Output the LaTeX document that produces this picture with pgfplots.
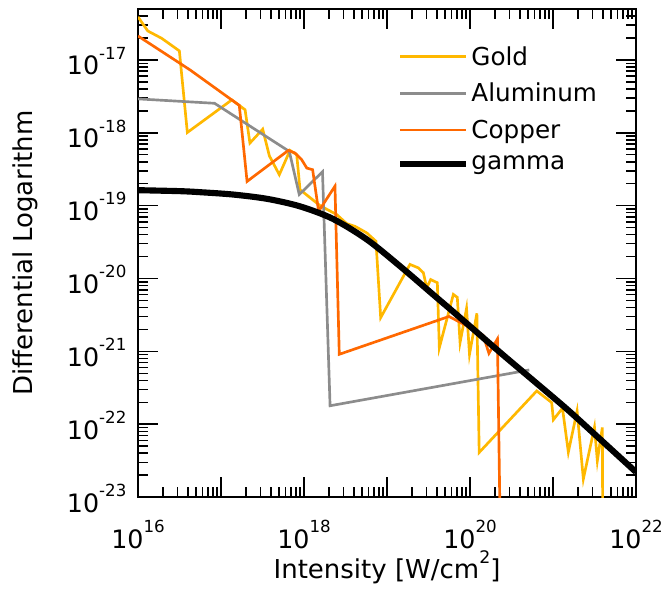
\documentclass[border=0pt]{standalone}
\usepackage{fontspec}
\setmainfont{DejaVu Sans}
\usepackage{pgfplots}
\pgfplotsset{compat=1.18}

\definecolor{gold}{RGB}{255,184,0}
\definecolor{copper}{RGB}{255,104,0}
\definecolor{alu}{RGB}{140,140,140}

% 10 with a raised exponent, in the text font
\newcommand{\tl}[1]{10\raisebox{0.62em}{\fontsize{12.5}{13}\selectfont #1}}

\begin{document}
\begin{tikzpicture}
\begin{axis}[
    scale only axis,
    width=373.5pt, height=366pt,
    xmode=log, ymode=log,
    xmin=1e16, xmax=1e22,
    ymin=1e-23, ymax=5e-17,
    xtick={1e16,1e17,1e18,1e19,1e20,1e21,1e22},
    xticklabels={\tl{16},,\tl{18},,\tl{20},,\tl{22}},
    ytick={1e-23,1e-22,1e-21,1e-20,1e-19,1e-18,1e-17},
    yticklabels={\tl{-23},\tl{-22},\tl{-21},\tl{-20},\tl{-19},\tl{-18},\tl{-17}},
    minor xtick={2e16,3e16,4e16,5e16,6e16,7e16,8e16,9e16,
                 2e17,3e17,4e17,5e17,6e17,7e17,8e17,9e17,
                 2e18,3e18,4e18,5e18,6e18,7e18,8e18,9e18,
                 2e19,3e19,4e19,5e19,6e19,7e19,8e19,9e19,
                 2e20,3e20,4e20,5e20,6e20,7e20,8e20,9e20,
                 2e21,3e21,4e21,5e21,6e21,7e21,8e21,9e21},
    minor ytick={2e-23,3e-23,4e-23,5e-23,6e-23,7e-23,8e-23,9e-23,
                 2e-22,3e-22,4e-22,5e-22,6e-22,7e-22,8e-22,9e-22,
                 2e-21,3e-21,4e-21,5e-21,6e-21,7e-21,8e-21,9e-21,
                 2e-20,3e-20,4e-20,5e-20,6e-20,7e-20,8e-20,9e-20,
                 2e-19,3e-19,4e-19,5e-19,6e-19,7e-19,8e-19,9e-19,
                 2e-18,3e-18,4e-18,5e-18,6e-18,7e-18,8e-18,9e-18,
                 2e-17,3e-17,4e-17},
    tick align=inside,
    major tick length=15pt, minor tick length=7.5pt,
    every tick/.style={black, line width=1.1pt},
    axis line style={line width=1.5pt},
    tick label style={font=\fontsize{19}{20}\selectfont, inner sep=0pt},
    xticklabel style={anchor=base, yshift=-38.25pt},
    yticklabel style={anchor=base east, xshift=-8.5pt, yshift=-11.25pt},
    label style={font=\fontsize{19.5}{20}\selectfont},
    xlabel={Intensity [W/cm\raisebox{0.6em}{\fontsize{13}{13}\selectfont 2}]},
    xlabel style={at={(axis description cs:0.5,0)}, anchor=base, yshift=-61.2pt, inner sep=0pt},
    ylabel={Differential Logarithm},
    ylabel style={at={(axis description cs:-0.227,0.5)}, anchor=center},
    legend style={at={(axis description cs:0.512,0.935)}, anchor=north west,
        draw=none, fill=none, font=\fontsize{18.5}{20}\selectfont, row sep=8pt},
    legend cell align=left,
    legend image code/.code={\draw[#1] (0pt,0pt) -- (43pt,0pt); \path (0pt,0pt) -- (49pt,0pt);},
]
\coordinate (O) at (rel axis cs:0,0);

\addplot[gold, line width=2pt] coordinates {
(1.0e16,3.9e-17) (1.31e16,2.50e-17) (1.93e16,1.98e-17) (3.15e16,1.33e-17)
(3.93e16,1.01e-18) (1.35e17,2.83e-18) (1.95e17,2.07e-18) (2.23e17,7.23e-19)
(3.18e17,1.12e-18) (3.82e17,4.84e-19) (5.04e17,2.66e-19) (6.78e17,5.73e-19)
(8.17e17,5.00e-19) (8.95e17,1.66e-19) (1.56e18,1.00e-19) (2.48e18,7.53e-20)
(3.27e18,5.66e-20) (4.11e18,5.20e-20) (5.69e18,4.23e-20) (7.36e18,3.24e-20)
(8.39e18,2.90e-21) (1.89e19,1.56e-20) (2.38e19,1.40e-20) (2.74e19,1.20e-20)
(3.01e19,7.46e-21) (3.36e19,9.68e-21) (4.04e19,8.73e-21) (4.27e19,1.12e-21)
(6.30e19,6.04e-21) (7.03e19,5.50e-21) (7.59e19,1.32e-21) (9.08e19,3.88e-21)
(9.86e19,9.10e-22) (1.21e20,3.32e-21) (1.29e20,4.09e-23) (6.37e20,2.86e-22)
(9.64e20,1.98e-22) (1.01e21,1.15e-22) (1.30e21,1.66e-22) (1.53e21,4.13e-23)
(1.95e21,1.52e-22) (2.32e21,1.77e-23) (3.16e21,9.10e-23) (3.42e21,3.14e-23)
(3.93e21,9.02e-23) (3.97e21,5e-24)
};
\addlegendentry{Gold}

\addplot[alu, line width=2pt] coordinates {
(1.0e16,2.92e-18) (8.36e16,2.54e-18) (6.65e17,5.55e-19) (8.77e17,1.42e-19)
(1.67e18,2.92e-19) (2.06e18,1.79e-22) (5.18e20,5.55e-22)
};
\addlegendentry{Aluminum}

\addplot[copper, line width=2pt] coordinates {
(1.0e16,2.13e-17) (4.24e16,7.29e-18) (1.66e17,2.38e-18) (2.06e17,2.15e-19)
(6.47e17,5.73e-19) (7.80e17,5.27e-19) (9.38e17,4.27e-19) (1.08e18,3.28e-19)
(1.27e18,3.11e-19) (1.50e18,8.36e-20) (2.36e18,1.85e-19) (2.66e18,9.10e-22)
(5.58e19,3.01e-21) (8.95e19,2.27e-21) (1.44e20,1.66e-21) (1.69e20,9.40e-22)
(2.14e20,1.48e-21) (2.30e20,5e-24)
};
\addlegendentry{Copper}

\addplot[black, line width=4.6pt, smooth] coordinates {
(1.0e16,1.63e-19) (3.21e16,1.58e-19) (5.58e16,1.53e-19) (1.40e17,1.42e-19)
(3.58e17,1.24e-19) (8.95e17,9.77e-20) (2.23e18,6.58e-20) (5.74e18,3.42e-20)
(1.44e19,1.47e-20) (3.58e19,6.04e-21) (7.59e19,2.90e-21) (2.30e20,9.68e-22)
(5.74e20,4.01e-22) (1.48e21,1.60e-22) (3.68e21,6.24e-23) (1.0e22,2.20e-23)
};
\addlegendentry{gamma}
\end{axis}
\path (O) ++(-103.5pt,-69.75pt) rectangle ++(498.75pt,442.5pt);
\end{tikzpicture}
\end{document}
